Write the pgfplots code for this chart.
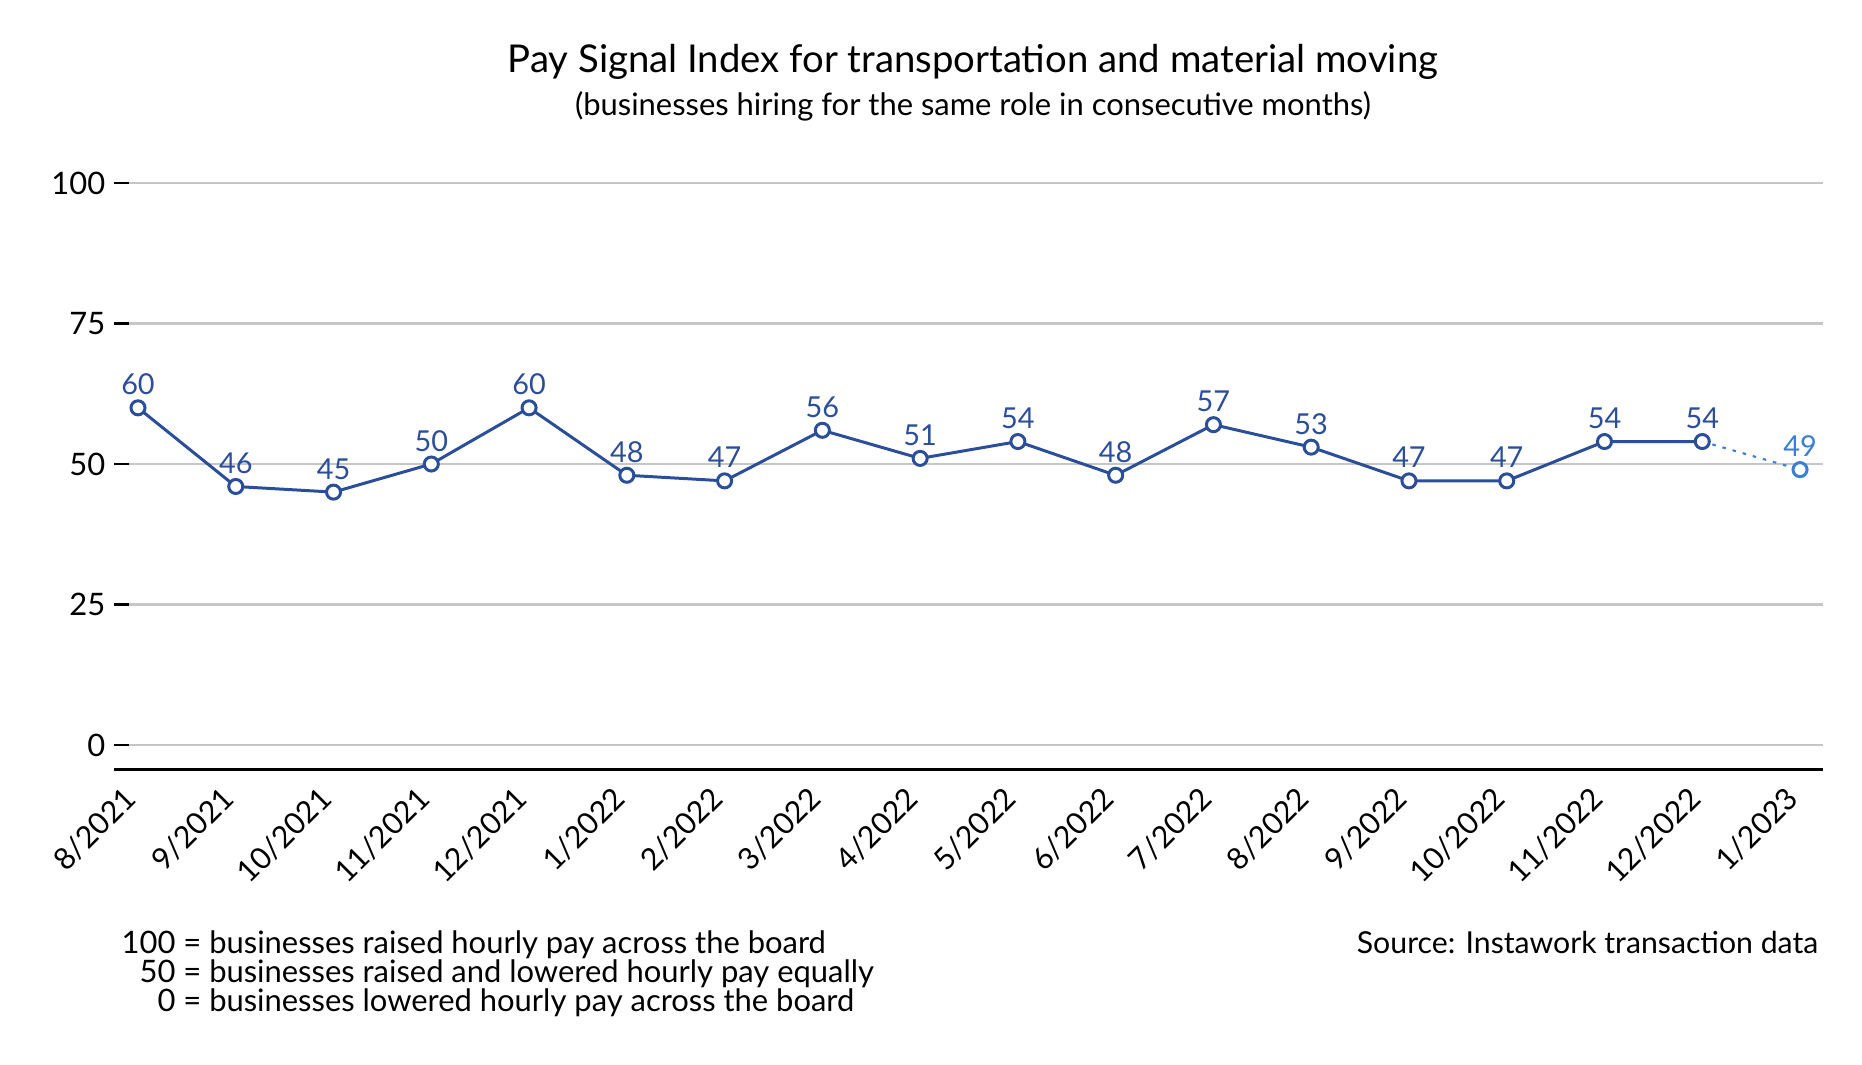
\documentclass[border=0pt]{standalone}
\usepackage{pgfplots}
\pgfplotsset{compat=1.18}
\usepackage{fontspec}
\setmainfont{Lato}
\definecolor{psiblue}{HTML}{2B4E9C}
\definecolor{psilight}{HTML}{3A7ED6}
\definecolor{gridgray}{HTML}{C6C6C6}

\begin{document}
\begin{tikzpicture}
\useasboundingbox (-12.9mm,-29.5mm) rectangle (173.3mm,76.9mm);
\begin{axis}[
  at={(0,0)}, anchor=south west,
  scale only axis,
  width=169.4mm, height=58.6mm,
  xmin=-0.092, xmax=17.235,
  ymin=-4.27, ymax=100,
  clip=false,
  axis x line*=bottom, axis y line*=left,
  x axis line style={black, line width=0.85pt, shorten <=-1.5mm},
  y axis line style={draw=none},
  ytick={0,25,50,75,100},
  ymajorgrids,
  grid style={gridgray, line width=0.6pt},
  tick align=outside,
  major tick length=1.5mm,
  ytick style={black, line width=0.6pt},
  xtick style={draw=none},
  xtick={0,...,17},
  xticklabels={8/2021,9/2021,10/2021,11/2021,12/2021,1/2022,2/2022,3/2022,4/2022,5/2022,6/2022,7/2022,8/2022,9/2022,10/2022,11/2022,12/2022,1/2023},
  tick label style={font=\fontsize{8.8}{10}\selectfont},
  xticklabel style={font=\fontsize{8.6}{10}\selectfont, rotate=45, anchor=north east, inner sep=0pt, yshift=1.1mm, xshift=-1.1mm},
  yticklabel style={inner sep=0pt, xshift=-0.8mm},
  /pgf/number format/assume math mode=true,
]
% projected last month, dotted
\addplot[psilight, line width=0.6pt, dash pattern=on 0.35mm off 0.7mm, forget plot]
  coordinates {(16,54) (17,49)};
\addplot[psiblue, line width=0.85pt, mark=*, mark size=2pt,
  mark options={fill=white, line width=0.85pt},
  nodes near coords,
  every node near coord/.append style={font=\fontsize{8.2}{9}\selectfont, anchor=base, inner sep=0pt, yshift=1.3mm}]
  coordinates {
  (0,60) (1,46) (2,45) (3,50) (4,60) (5,48) (6,47) (7,56) (8,51)
  (9,54) (10,48) (11,57) (12,53) (13,47) (14,47) (15,54) (16,54)
  };
\addplot[psilight, only marks, mark=*, mark size=2pt,
  mark options={fill=white, line width=0.85pt},
  nodes near coords,
  every node near coord/.append style={font=\fontsize{8.2}{9}\selectfont, anchor=base, inner sep=0pt, yshift=1.3mm}]
  coordinates {(17,49)};
\end{axis}
\node[anchor=base, font=\fontsize{10.9}{12}\selectfont] at (84.4mm,69.7mm)
  {Pay Signal Index for transportation and material moving};
\node[anchor=base, font=\fontsize{8.8}{11}\selectfont] at (84.4mm,65.4mm)
  {(businesses hiring for the same role in consecutive months)};
\node[anchor=base west, align=left, inner sep=0pt, font=\fontsize{8.8}{8.25}\selectfont] at (-0.8mm,-24.2mm)
  {100 = businesses raised hourly pay across the board\\
   \hphantom{1}50 = businesses raised and lowered hourly pay equally\\
   \hphantom{10}0 = businesses lowered hourly pay across the board};
\node[anchor=base east, inner sep=0pt, font=\fontsize{8.6}{11}\selectfont] at (169.0mm,-18.4mm)
  {Source: Instawork transaction data};
\end{tikzpicture}
\end{document}
